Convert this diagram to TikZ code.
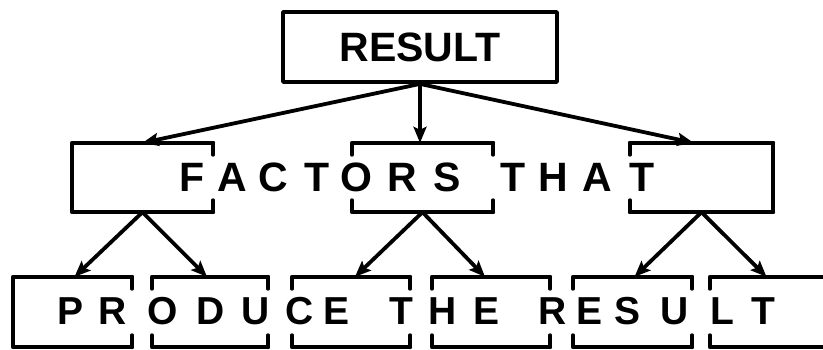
\documentclass[tikz,border=0pt]{standalone}
\usepackage{fontspec}
\setmainfont{Liberation Sans}
\usetikzlibrary{arrows.meta}
\newcommand\bxTicksL[1]{\draw[ln] ([yshift=-12pt]#1.north west) -- (#1.north west) -- (#1.north east);
  \draw[ln] ([yshift=12pt]#1.south west) -- (#1.south west) -- (#1.south east);}
\newcommand\bxFullL[1]{\draw[ln] (#1.north east) -- (#1.north west) -- (#1.south west) -- (#1.south east);}
\newcommand\bxTicksR[1]{\draw[ln] (#1.north east) -- ([yshift=-12pt]#1.north east);
  \draw[ln] (#1.south east) -- ([yshift=12pt]#1.south east);}
\newcommand\bxFullR[1]{\draw[ln] (#1.north west) -- (#1.north east) -- (#1.south east) -- (#1.south west);}
\begin{document}
\begin{tikzpicture}[x=1pt,y=-1pt,
  ln/.style={line width=3.8pt, line cap=round, line join=round},
  arr/.style={ln, line cap=butt, -{Stealth[length=16pt,width=13pt,inset=3pt]}},
  slot/.style={rectangle, inner sep=0pt, minimum height=69pt},
  topbox/.style={draw, ln, rectangle, inner sep=0pt, minimum width=274pt, minimum height=70pt,
    font=\fontsize{41}{41}\selectfont\bfseries},
  ltrA/.style={font=\fontsize{41}{41}\selectfont\bfseries, inner sep=0pt, anchor=base},
  ltrB/.style={font=\fontsize{39}{39}\selectfont\bfseries, inner sep=0pt, anchor=base},
]
\useasboundingbox[fill=white] (0,0) rectangle (823,349);

% top box
\node[topbox] (r) at (420,47) {RESULT};

% row 2 slots
\node[slot, minimum width=141pt] (f1) at (142.5,177.5) {};
\node[slot, minimum width=141pt] (f2) at (422.5,177.5) {};
\node[slot, minimum width=143pt] (f3) at (701.5,177.5) {};

% row 3 slots
\node[slot, minimum height=70pt, minimum width=119pt] (p1) at (72.5,312) {};
\node[slot, minimum height=70pt, minimum width=116pt] (p2) at (210,312) {};
\node[slot, minimum height=70pt, minimum width=118pt] (p3) at (351,312) {};
\node[slot, minimum height=70pt, minimum width=118pt] (p4) at (491,312) {};
\node[slot, minimum height=70pt, minimum width=119pt] (p5) at (632.5,312) {};
\node[slot, minimum height=70pt, minimum width=113pt] (p6) at (766.5,312) {};
\coordinate (p6ne) at ([xshift=10pt]p6.north east);
\coordinate (p6se) at ([xshift=10pt]p6.south east);

% brackets row 2
\bxFullL{f1}\bxTicksR{f1}
\bxTicksL{f2}\bxTicksR{f2}
\bxTicksL{f3}\bxFullR{f3}

% brackets row 3
\bxFullL{p1}\bxTicksR{p1}
\bxTicksL{p2}\bxTicksR{p2}
\bxTicksL{p3}\bxTicksR{p3}
\bxTicksL{p4}\bxTicksR{p4}
\bxTicksL{p5}\bxTicksR{p5}
\draw[ln] (p6ne) -- (p6.north west) -- ([yshift=-12pt]p6.north west);
\draw[ln] (p6se) -- (p6.south west) -- ([yshift=12pt]p6.south west);

% letters row 2
\foreach \c/\x [count=\i] in {F/192,A/232,C/273,T/317,O/356,R/402,S/447,T/513,H/553,A/597,T/642}
  \node[ltrA] (fl\i) at (\x,191) {\c};

% letters row 3
\foreach \c/\x [count=\i] in {P/71,R/113,O/163,D/211,U/256,C/300,E/337,T/401,H/443,E/487,R/553,E/590,S/628,U/675,L/722,T/763}
  \node[ltrB] (pl\i) at (\x,324) {\c};

% arrows top -> row 2
\draw[arr] (r.south) -- (f1.north);
\draw[arr] (r.south) -- (r.south |- f2.north);
\draw[arr] (r.south) -- ([xshift=-8pt]f3.north);

% arrows row 2 -> row 3
\draw[arr] (f1.south) -- ([xshift=2pt]p1.north);
\draw[arr] (f1.south) -- ([xshift=-3pt]p2.north);
\draw[arr] (f2.south) -- ([xshift=4pt]p3.north);
\draw[arr] (f2.south) -- ([xshift=-6pt]p4.north);
\draw[arr] (f3.south) -- ([xshift=2pt]p5.north);
\draw[arr] (f3.south) -- (p6.north);
\end{tikzpicture}
\end{document}
